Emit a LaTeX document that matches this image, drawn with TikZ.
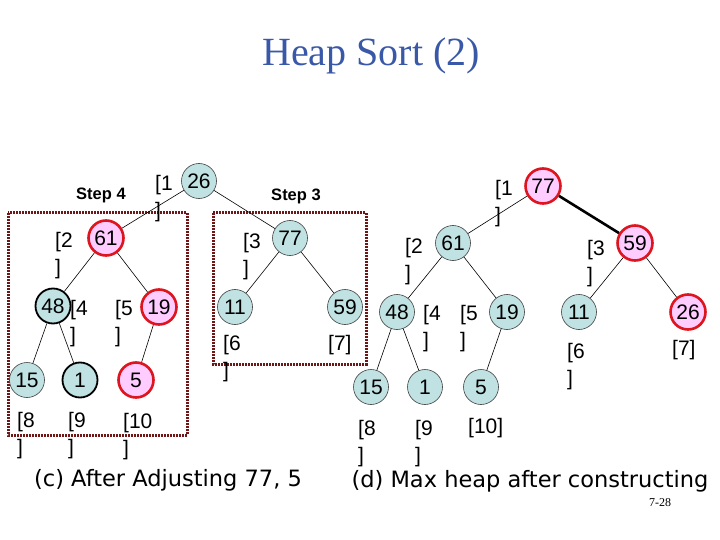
\documentclass[tikz,border=0pt]{standalone}
\usepackage{fontspec}
\setmainfont{Liberation Serif}
\newfontfamily\comic{Liberation Sans}
\newfontfamily\capfont{DejaVu Sans}
\definecolor{teal1}{RGB}{192,226,226}
\definecolor{pink1}{RGB}{255,204,255}
\definecolor{red1}{RGB}{222,20,30}
\definecolor{maroon1}{RGB}{112,22,22}
\definecolor{titleblue}{RGB}{58,88,168}
\tikzset{
  hn/.style={circle, minimum size=35pt, inner sep=0pt, text height=15pt, text depth=0pt, font=\comic\fontsize{21}{24}\selectfont},
  tn/.style={hn, fill=teal1, draw=black!75, line width=0.6pt},
  rn/.style={hn, fill=pink1, draw=red1, line width=2.6pt},
  bn/.style={hn, fill=teal1, draw=black, line width=1.8pt},
  lab/.style={anchor=north west, inner sep=0pt, align=left, font=\comic\fontsize{21}{27}\selectfont},
  edge/.style={line width=0.6pt},
  boxd/.style={draw=maroon1, line width=3pt, dash pattern=on 2pt off 1pt},
  steplab/.style={font=\comic\bfseries\fontsize{16.5}{18}\selectfont},
  captxt/.style={font=\capfont\fontsize{22.5}{26}\selectfont}
}
\begin{document}
\begin{tikzpicture}[x=1pt,y=-1pt]
\useasboundingbox (0,0) rectangle (720,540);
% title
\node[font=\fontsize{40}{44}\selectfont, text=titleblue] (title) at (371,56) {Heap Sort (2)};
% boxes
\draw[boxd] (8,213) rectangle (187,435);
\draw[boxd] (213,213) rectangle (366,364);
\node[steplab] (s4) at (101,195) {Step 4};
\node[steplab] (s3) at (296,196) {Step 3};
% left tree
\node[tn] (a26) at (199,181) {26};
\node[rn] (a61) at (106,238) {61};
\node[tn] (a77) at (290,238) {77};
\node[bn] (a48) at (53,306) {48};
\node[rn] (a19) at (159,307) {19};
\node[tn] (a11) at (235,307) {11};
\node[tn] (a59) at (345,307) {59};
\node[tn] (a15) at (27,380) {15};
\node[bn] (a1) at (80,380) {1};
\node[rn] (a5) at (136,380) {5};
\draw[edge] (a26) -- (a61);
\draw[edge] (a26) -- (a77);
\draw[edge] (a61) -- (a48);
\draw[edge] (a61) -- (a19);
\draw[edge] (a77) -- (a11);
\draw[edge] (a77) -- (a59);
\draw[edge] (a48) -- (a15);
\draw[edge] (a48) -- (a1);
\draw[edge] (a19) -- (a5);
% left labels
\node[lab] (l1) at (155,175) {[1\\]};
\node[lab] (l2) at (55,232) {[2\\]};
\node[lab] (l3) at (243,233) {[3\\]};
\node[lab] (l4) at (70,300) {[4\\]};
\node[lab] (l5) at (115,300) {[5\\]};
\node[lab] (l6) at (223,335) {[6\\]};
\node[lab] (l7) at (328,335) {[7]};
\node[lab] (l8) at (17,412) {[8\\]};
\node[lab] (l9) at (68,412) {[9\\]};
\node[lab] (l10) at (123,413) {[10\\]};
% right tree
\node[rn] (b77) at (543,186) {77};
\node[tn] (b61) at (453,243) {61};
\node[rn] (b59) at (635,243) {59};
\node[tn] (b48) at (397,312) {48};
\node[tn] (b19) at (507,312) {19};
\node[tn] (b11) at (579,312) {11};
\node[rn] (b26) at (688,312) {26};
\node[tn] (b15) at (371,387) {15};
\node[tn] (b1) at (425,387) {1};
\node[tn] (b5) at (481,387) {5};
\draw[edge] (b77) -- (b61);
\draw[line width=2.6pt] (b77) -- (b59);
\draw[edge] (b61) -- (b48);
\draw[edge] (b61) -- (b19);
\draw[edge] (b59) -- (b11);
\draw[edge] (b59) -- (b26);
\draw[edge] (b48) -- (b15);
\draw[edge] (b48) -- (b1);
\draw[edge] (b19) -- (b5);
% right labels
\node[lab] (r1) at (495,180) {[1\\]};
\node[lab] (r2) at (405,238) {[2\\]};
\node[lab] (r3) at (587,240) {[3\\]};
\node[lab] (r4) at (423,305) {[4\\]};
\node[lab] (r5) at (460,305) {[5\\]};
\node[lab] (r6) at (567,343) {[6\\]};
\node[lab] (r7) at (672,340) {[7]};
\node[lab] (r8) at (358,420) {[8\\]};
\node[lab] (r9) at (415,420) {[9\\]};
\node[lab] (r10) at (468,418) {[10]};
% captions
\node[captxt] (capc) at (168,480) {(c) After Adjusting 77, 5};
\node[captxt] (capd) at (530,481) {(d) Max heap after constructing};
\node[font=\fontsize{12}{14}\selectfont] (pg) at (660,503) {7-28};
\end{tikzpicture}
\end{document}
